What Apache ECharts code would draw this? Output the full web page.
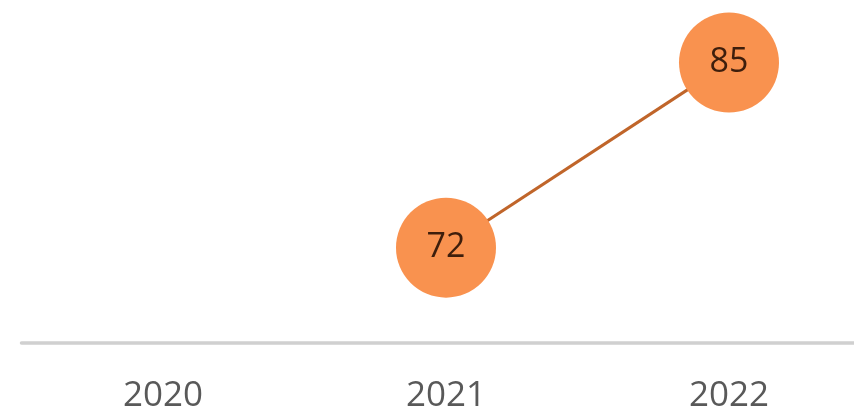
<!DOCTYPE html>
<html>
<head>
<meta charset="utf-8">
<script src="https://cdn.jsdelivr.net/npm/echarts@6/dist/echarts.min.js"></script>
<style>
html,body{margin:0;padding:0;background:#fff;}
#c{width:854px;height:411px;}
</style>
</head>
<body>
<div id="c"></div>
<script>
var categories = ['2020', '2021', '2022'];
var values = [null, 72, 85];

var chart = echarts.init(document.getElementById('c'), null, {renderer: 'canvas'});
chart.setOption({
  animation: false,
  grid: {left: 21.5, width: 849, top: 0, bottom: 68, containLabel: false, outerBoundsMode: 'none'},
  xAxis: {
    type: 'category',
    data: categories,
    boundaryGap: true,
    axisLine: {show: true, lineStyle: {color: '#d0d0d0', width: 3.5}},
    axisTick: {show: false},
    axisLabel: {color: '#595959', fontSize: 35, fontFamily: 'Open Sans', margin: 36}
  },
  yAxis: {
    type: 'value',
    min: 65.3,
    max: 89.4,
    show: false,
    splitLine: {show: false}
  },
  series: [{
    type: 'line',
    data: values,
    symbol: 'circle',
    symbolSize: 100,
    connectNulls: false,
    lineStyle: {color: '#c0652a', width: 3},
    itemStyle: {color: '#f9924f', borderColor: '#f9924f', borderWidth: 0},
    label: {
      show: true,
      position: 'inside',
      color: '#3e1e0c',
      fontSize: 34,
      fontFamily: 'Open Sans'
    }
  }]
});
</script>
</body>
</html>
